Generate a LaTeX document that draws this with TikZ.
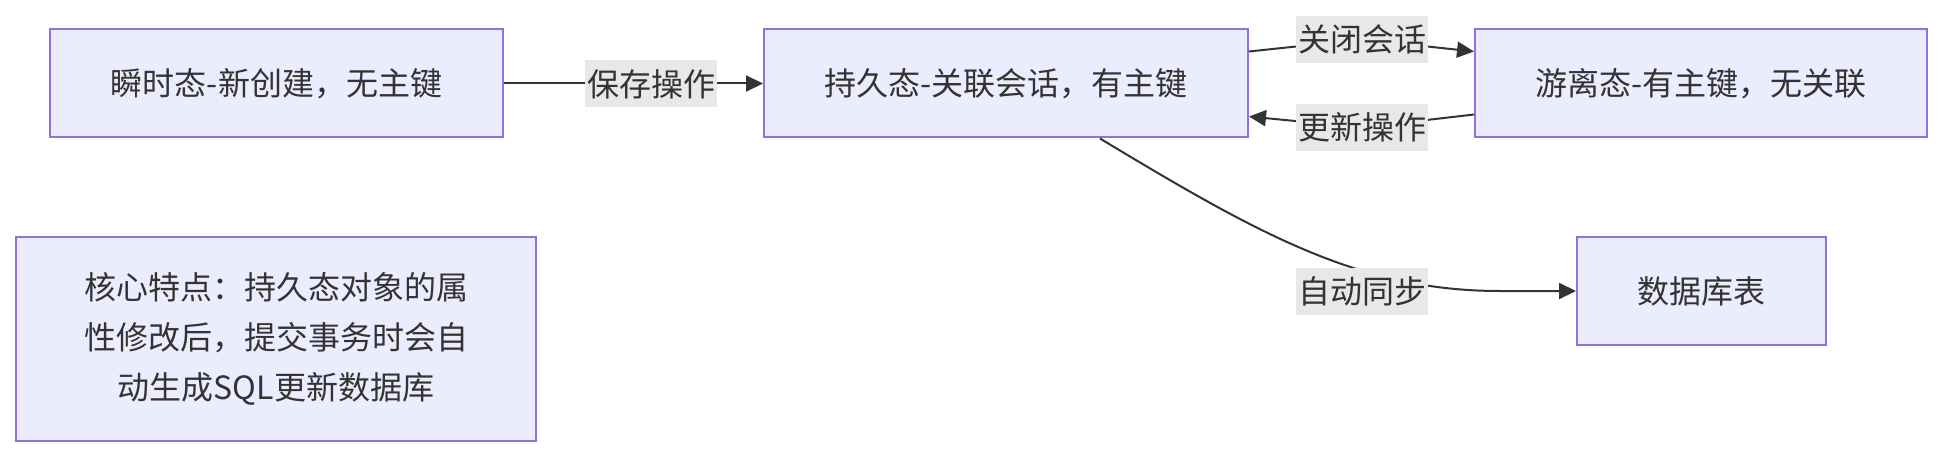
\documentclass[tikz,border=0pt]{standalone}
\usepackage{fontspec}
\setmainfont{Noto Sans CJK SC}
\usetikzlibrary{arrows.meta,calc}
\definecolor{boxfill}{HTML}{ECECFF}
\definecolor{boxline}{HTML}{9370DB}
\definecolor{ink}{HTML}{333333}
\definecolor{lblbg}{HTML}{E8E8E8}
\begin{document}
\begin{tikzpicture}[x=1pt,y=-1pt,
  box/.style={draw=boxline, fill=boxfill, line width=2pt, text=ink,
    font=\fontsize{32}{47}\selectfont, align=center, inner sep=0pt},
  lbl/.style={fill=lblbg, text=ink, font=\fontsize{32}{47}\selectfont,
    inner xsep=2pt, inner ysep=0pt, minimum height=47pt},
  conn/.style={draw=ink, line width=2pt},
  arr/.style={conn, -{Triangle[length=17pt,width=16pt]}}]
\useasboundingbox (0,0) rectangle (1943,457);
\fill[white] (0,0) rectangle (1943,457);
% nodes
\node[box, minimum width=453pt, minimum height=108pt] (A) at (276.5,83.5) {瞬时态-新创建，无主键};
\node[box, minimum width=484pt, minimum height=108pt] (B) at (1006,83.5) {持久态-关联会话，有主键};
\node[box, minimum width=452pt, minimum height=108pt] (C) at (1701,83.5) {游离态-有主键，无关联};
\node[box, minimum width=249pt, minimum height=108pt] (D) at (1701.5,291) {数据库表};
\node[box, minimum width=520pt, minimum height=204pt, font=\fontsize{32}{50}\selectfont] (E) at (276,339) {核心特点：持久态对象的属\\性修改后，提交事务时会自\\动生成SQL更新数据库};
% label positions
\coordinate (m1) at (651,84);
\coordinate (m2) at (1362,39.5);
\coordinate (m3) at (1362,127.5);
\coordinate (m4) at (1362,291);
\coordinate (m4r) at (1500,291);
% connectors
\draw[arr] (A.east) -- (B.west);
\draw[arr] ($(B.north east)+(0,23)$) -- (m2) -- ($(C.north west)+(0,23)$);
\draw[arr] ($(C.south west)+(0,-24)$) -- (m3) -- ($(B.south east)+(0,-22)$);
\draw[arr] ($(B.south)+(94,0)$) .. controls (1260,235) and (1360,291) .. (m4r) -- (D.west);
% labels
\node[lbl] (l1) at (m1) {保存操作};
\node[lbl] (l2) at (m2) {关闭会话};
\node[lbl] (l3) at (m3) {更新操作};
\node[lbl] (l4) at (m4) {自动同步};
\end{tikzpicture}
\end{document}
